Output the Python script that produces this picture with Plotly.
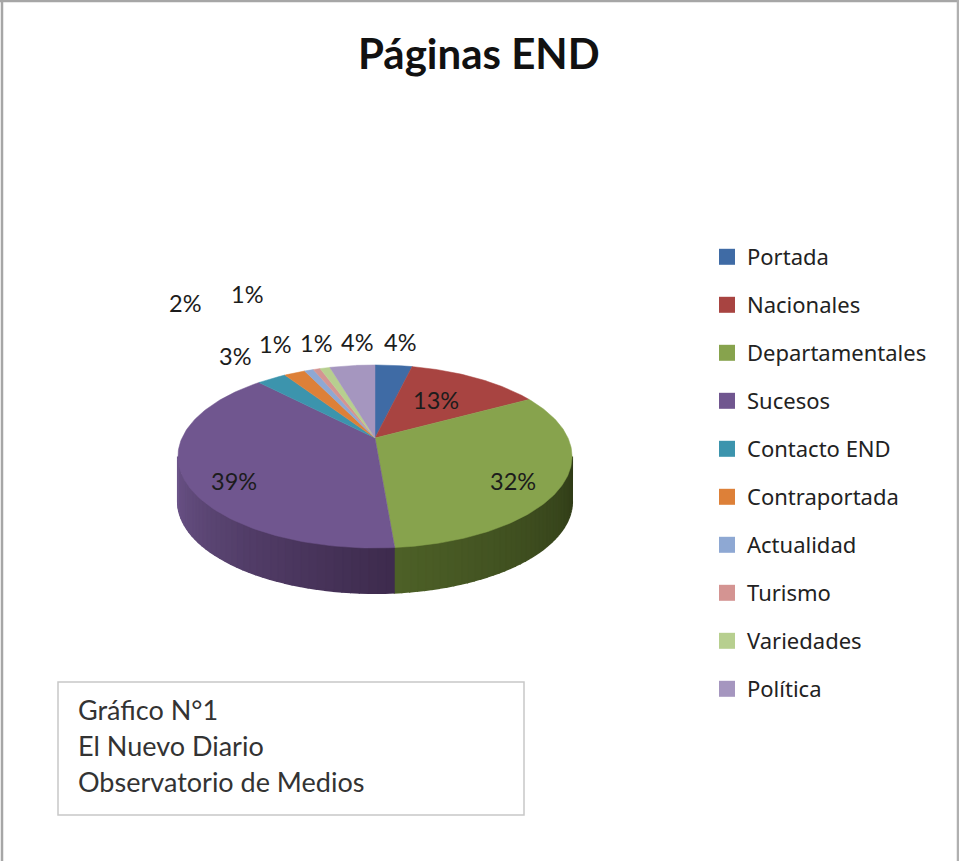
import numpy as np
import plotly.graph_objects as go

categories = ["Portada", "Nacionales", "Departamentales", "Sucesos", "Contacto END",
              "Contraportada", "Actualidad", "Turismo", "Variedades", "Política"]
values = [3.7, 13.3, 31.7, 39.2, 2.9, 2.1, 0.9, 0.7, 1.0, 4.5]
pct_labels = ["4%", "13%", "32%", "39%", "3%", "2%", "1%", "1%", "1%", "4%"]
colors = ["#3f6ba5", "#a84441", "#87a34d", "#70568f", "#3c94ad",
          "#dd8038", "#8ea8d3", "#d49492", "#b7cf8f", "#a596bf"]
side_colors = {2: ("#4d6027", "#303c18"), 3: ("#6b5488", "#3e2b4e")}
label_xy = [(400, 342), (436, 400), (513, 481), (234, 481), (235, 356),
            (185, 303), (275, 344), (316, 343), (247, 294), (357, 342)]
box_lines = ["Gráfico N°1", "El Nuevo Diario", "Observatorio de Medios"]
title = "Páginas END"

CX, CY, A, B, K, DEPTH = 375, 438, 193, 87.8, 0.202, 45
FONT = "Lato"


def proj(theta):
    w = 1 + K * np.cos(theta)
    return CX + A * np.sin(theta) / w, CY - B * np.cos(theta) / w


fig = go.Figure()
total = sum(values)
edges = np.cumsum([0] + values) / total * 2 * np.pi

# Side wall (only the part facing the viewer)
theta_r = np.pi / 2 + np.arcsin(K)
theta_l = 2 * np.pi - theta_r
for i in side_colors:
    t0 = max(edges[i], theta_r)
    t1 = min(edges[i + 1], theta_l)
    n = 40
    c0, c1 = side_colors[i]
    rgb0 = np.array([int(c0[j:j + 2], 16) for j in (1, 3, 5)])
    rgb1 = np.array([int(c1[j:j + 2], 16) for j in (1, 3, 5)])
    ts = np.linspace(t0, t1, n + 1)
    for s in range(n):
        f = s / (n - 1)
        rgb = rgb1 + (rgb0 - rgb1) * f
        col = "rgb(%d,%d,%d)" % tuple(rgb)
        seg = np.linspace(ts[s], ts[s + 1], 4)
        x, y = proj(seg)
        fig.add_trace(go.Scatter(
            x=np.r_[x, x[::-1]], y=np.r_[y, y[::-1] + DEPTH],
            mode="lines", fill="toself", fillcolor=col,
            line=dict(color=col, width=2), showlegend=False, hoverinfo="skip"))

# Top face wedges
for i, name in enumerate(categories):
    seg = np.linspace(edges[i], edges[i + 1], 120)
    x, y = proj(seg)
    fig.add_trace(go.Scatter(
        x=np.r_[CX, x, CX], y=np.r_[CY, y, CY],
        mode="lines", fill="toself", fillcolor=colors[i],
        line=dict(color=colors[i], width=0.5), showlegend=False, name=name,
        hoverinfo="name"))

# Legend entries
for i, name in enumerate(categories):
    fig.add_trace(go.Scatter(
        x=[None], y=[None], mode="markers", name=name, legendgroup=name,
        marker=dict(symbol="square", size=16, color=colors[i])))

annotations = [
    dict(x=x, y=y, text=t, showarrow=False, font=dict(family=FONT, size=23.5, color="#1c1c1c"),
         xref="x", yref="y", xanchor="center", yanchor="middle")
    for (x, y), t in zip(label_xy, pct_labels)
]
annotations.append(dict(x=479, y=53, text="<b>%s</b>" % title, showarrow=False,
                        font=dict(family=FONT, size=42, color="#111111"),
                        xref="x", yref="y", xanchor="center", yanchor="middle"))
for line, y in zip(box_lines, (709, 745, 781)):
    annotations.append(dict(x=76, y=y, text=line, showarrow=False,
                            font=dict(family=FONT, size=27, color="#333333"),
                            xref="x", yref="y", xanchor="left", yanchor="middle"))

shapes = [
    dict(type="rect", xref="x", yref="y", x0=58, x1=524, y0=682, y1=815,
         line=dict(color="#c8c8c8", width=1.5), fillcolor="rgba(0,0,0,0)"),
    dict(type="line", xref="x", yref="y", x0=2, x1=2, y0=0, y1=861, line=dict(color="#a6a6a6", width=2.5)),
    dict(type="line", xref="x", yref="y", x0=0, x1=959, y0=1, y1=1, line=dict(color="#a6a6a6", width=2.5)),
    dict(type="line", xref="x", yref="y", x0=958, x1=958, y0=0, y1=861, line=dict(color="#b0b0b0", width=2.5)),
]

fig.update_layout(
    width=959, height=861, margin=dict(l=0, r=0, t=0, b=0),
    paper_bgcolor="white", plot_bgcolor="white",
    xaxis=dict(range=[0, 959], visible=False, fixedrange=True),
    yaxis=dict(range=[861, 0], visible=False, fixedrange=True),
    annotations=annotations, shapes=shapes, hovermode="closest",
    legend=dict(x=707 / 959, y=1 - 236 / 861, xanchor="left", yanchor="top",
                font=dict(family="Noto Sans", size=22, color="#222222"),
                tracegroupgap=16.4, bgcolor="rgba(0,0,0,0)"),
)
fig.write_html("out.html", config={"displayModeBar": False},
               post_script="document.body.style.margin='0';document.body.style.overflow='hidden';")
